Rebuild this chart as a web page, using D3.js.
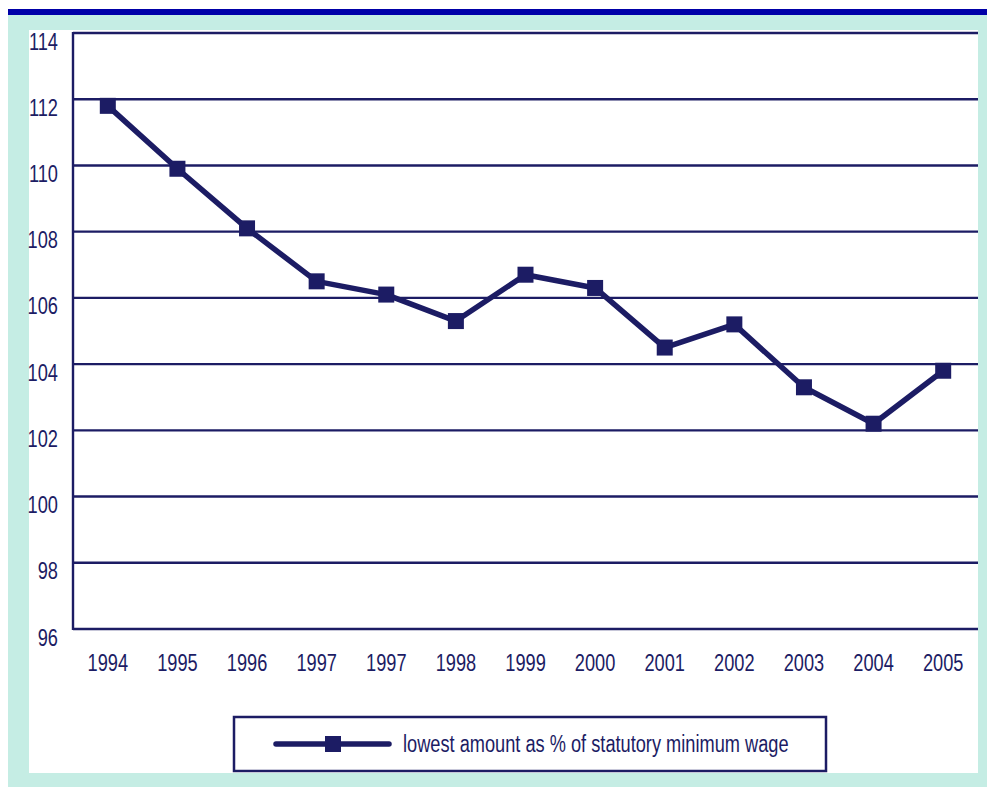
<!DOCTYPE html>
<html>
<head>
<meta charset="utf-8">
<script src="https://cdn.jsdelivr.net/npm/d3@7"></script>
<style>
  html, body { margin: 0; padding: 0; background: #ffffff; }
  svg { display: block; }
  text { font-family: "Liberation Sans", Arial, sans-serif; fill: #1c1c64; }
</style>
</head>
<body>
<div id="chart"></div>
<script>
// Years on the x axis (1997 appears twice in the source series)
const years = ["1994", "1995", "1996", "1997", "1997", "1998", "1999", "2000", "2001", "2002", "2003", "2004", "2005"];
// Lowest amount as % of statutory minimum wage
const values = [111.8, 109.9, 108.1, 106.5, 106.1, 105.3, 106.7, 106.3, 104.5, 105.2, 103.3, 102.2, 103.8];
// Y axis ticks
const yTicks = [96, 98, 100, 102, 104, 106, 108, 110, 112, 114];
const seriesLabel = "lowest amount as % of statutory minimum wage";

const W = 987, H = 787;
const navy = "#1c1c64";
const fontSize = 23.5;
const narrow = 0.775; // horizontal squeeze for a condensed look

const svg = d3.select("#chart").append("svg").attr("width", W).attr("height", H);

// Frame: blue top bar, teal border, white panel
svg.append("rect").attr("x", 8).attr("y", 15).attr("width", W - 8).attr("height", H - 15).attr("fill", "#c5ede4");
svg.append("rect").attr("x", 8).attr("y", 9).attr("width", W - 8).attr("height", 6).attr("fill", "#0000a8");
svg.append("rect").attr("x", 29).attr("y", 30).attr("width", 949).attr("height", 743).attr("fill", "#ffffff");

const plot = { left: 73, right: 978, top: 33, bottom: 629 };

const x = d3.scalePoint()
  .domain(d3.range(years.length))
  .range([plot.left, plot.right])
  .padding(0.5);

const y = d3.scaleLinear()
  .domain([96, 114])
  .range([plot.bottom, plot.top]);

// Horizontal gridlines
svg.append("g")
  .selectAll("line")
  .data(yTicks)
  .join("line")
  .attr("x1", plot.left)
  .attr("x2", plot.right)
  .attr("y1", d => y(d))
  .attr("y2", d => y(d))
  .attr("stroke", navy)
  .attr("stroke-width", 2.4);

// Left axis line
svg.append("line")
  .attr("x1", plot.left).attr("x2", plot.left)
  .attr("y1", plot.top - 1).attr("y2", plot.bottom + 1)
  .attr("stroke", navy).attr("stroke-width", 2.4);

// Y tick labels (hanging just below each gridline)
svg.append("g")
  .selectAll("text")
  .data(yTicks)
  .join("text")
  .attr("transform", d => `translate(58,${y(d) + 16.5}) scale(${narrow},1)`)
  .attr("text-anchor", "end")
  .attr("font-size", fontSize)
  .text(d => d);

// X tick labels
svg.append("g")
  .selectAll("text")
  .data(years)
  .join("text")
  .attr("transform", (d, i) => `translate(${x(i)},671) scale(${narrow},1)`)
  .attr("text-anchor", "middle")
  .attr("font-size", fontSize)
  .text(d => d);

// Series line
const line = d3.line()
  .x((d, i) => x(i))
  .y(d => y(d));

svg.append("path")
  .datum(values)
  .attr("d", line)
  .attr("fill", "none")
  .attr("stroke", navy)
  .attr("stroke-width", 5.5)
  .attr("stroke-linejoin", "round");

// Square markers
const ms = 16;
svg.append("g")
  .selectAll("rect")
  .data(values)
  .join("rect")
  .attr("x", (d, i) => x(i) - ms / 2)
  .attr("y", d => y(d) - ms / 2)
  .attr("width", ms)
  .attr("height", ms)
  .attr("fill", navy);

// Legend
const legend = svg.append("g");
legend.append("rect")
  .attr("x", 234).attr("y", 717)
  .attr("width", 592).attr("height", 54)
  .attr("fill", "#ffffff")
  .attr("stroke", navy).attr("stroke-width", 2.5);
legend.append("line")
  .attr("x1", 276).attr("x2", 389)
  .attr("y1", 744).attr("y2", 744)
  .attr("stroke", navy).attr("stroke-width", 5.5)
  .attr("stroke-linecap", "round");
legend.append("rect")
  .attr("x", 333 - ms / 2).attr("y", 744 - ms / 2)
  .attr("width", ms).attr("height", ms)
  .attr("fill", navy);
legend.append("text")
  .attr("transform", `translate(403,752) scale(${narrow},1)`)
  .attr("font-size", fontSize)
  .text(seriesLabel);
</script>
</body>
</html>
